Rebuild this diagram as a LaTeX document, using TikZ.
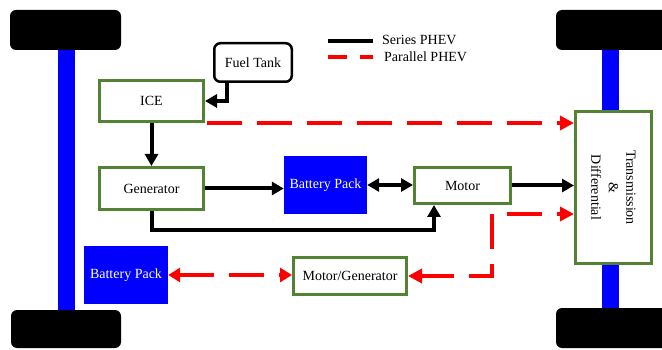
\documentclass[tikz,border=0pt]{standalone}
\usepackage{fontspec}
\setmainfont{Liberation Serif}
\usetikzlibrary{arrows.meta,calc}
\definecolor{boxgreen}{HTML}{548235}
\definecolor{pureblue}{HTML}{0000FF}
\definecolor{purered}{HTML}{FF0000}
\tikzset{
  gbox/.style={draw=boxgreen,line width=3pt,fill=white,inner sep=0pt,font=\fontsize{14}{17}\selectfont},
  bbox/.style={fill=pureblue,text=white,inner sep=0pt,font=\fontsize{14}{17}\selectfont},
  wheel/.style={fill=black,rounded corners=6pt},
  axle/.style={fill=pureblue},
  sline/.style={line width=4pt,black},
  sarrow/.style={sline,-{Triangle[length=12pt,width=13pt]}},
  sdarrow/.style={sline,{Triangle[length=12pt,width=13pt]}-{Triangle[length=12pt,width=13pt]}},
  pline/.style={line width=4.5pt,purered,dash pattern=on 35pt off 15pt},
  parrow/.style={pline,-{Triangle[length=14pt,width=14pt]}},
  pdarrow/.style={pline,{Triangle[length=12pt,width=14pt]}-{Triangle[length=12pt,width=14pt]}},
  legtext/.style={anchor=west,inner sep=0pt,font=\fontsize{14}{17}\selectfont}
}
\begin{document}
\begin{tikzpicture}[x=1pt,y=-1pt]
\clip (0,0) rectangle (662,350);
\fill[white] (0,0) rectangle (662,350);
% axles
\fill[axle] (58,45) rectangle (75,315);
\fill[axle] (602,45) rectangle (619,112);
\fill[axle] (602,262) rectangle (619,312);
% wheels
\fill[wheel] (10,10) rectangle (121,50);
\fill[wheel] (11,310) rectangle (121,348);
\fill[wheel] (556,10) rectangle (675,50);
\fill[wheel] (556,308) rectangle (675,348);
% nodes
\node[draw=black,line width=2.5pt,rounded corners=6pt,fill=white,inner sep=0pt,
      minimum width=77.5pt,minimum height=38.5pt,font=\fontsize{14}{17}\selectfont] (fuel) at (253,62.5) {Fuel Tank};
\node[gbox,minimum width=104pt,minimum height=41pt] (ice) at (151.5,101) {ICE};
\node[gbox,minimum width=104pt,minimum height=42pt] (gen) at (151.5,188.5) {Generator};
\node[bbox,minimum width=83pt,minimum height=58pt] (bat) at (325.5,185) {Battery Pack};
\node[gbox,minimum width=96pt,minimum height=36pt] (motor) at (462.5,185.5) {Motor};
\node[gbox,minimum width=76pt,minimum height=152pt] (trans) at (613.5,187.5) {};
\node[rotate=-90,align=center,inner sep=0pt,font=\fontsize{14}{17.5}\selectfont] (transtext) at (trans.center) {Transmission\\\&\\Differential};
\node[gbox,minimum width=113pt,minimum height=37pt] (mg) at (350,276) {Motor/Generator};
\node[bbox,minimum width=84pt,minimum height=58pt] (batl) at (126,275) {Battery Pack};
% legend
\coordinate (l1a) at (328,41);
\coordinate (l1b) at (373,41);
\coordinate (l2a) at (328,57);
\coordinate (l2b) at (373,57);
\draw[sline] (l1a) -- (l1b);
\draw[line width=4.5pt,purered,dash pattern=on 19pt off 13pt] (l2a) -- (l2b);
\node[legtext] (leg1) at (382,40) {Series PHEV};
\node[legtext] (leg2) at (384,57) {Parallel PHEV};
% series connectors
\draw[sarrow] ($(fuel.south west)+(14,0)$) |- (ice.east);
\draw[sarrow] (ice.south) -- (gen.north);
\draw[sarrow] (gen.east) -- (gen.east -| bat.west);
\draw[sdarrow] (bat.east) -- (bat.east -| motor.west);
\draw[sarrow] (motor.east) -- (motor.east -| trans.west);
\draw[sarrow] (gen.south) -- ($(gen.south)+(0,19)$) -| ($(motor.south west)+(21,0)$);
% parallel connectors
\coordinate (rt) at ($(ice.south east)+(1.5,0)$);
\draw[parrow] (rt) -- (rt -| trans.west);
\coordinate (rs) at (492,214);
\draw[parrow,dash phase=35pt] (rs) -- (rs -| trans.west);
\draw[parrow] (rs) |- (mg.east);
\draw[pdarrow] (batl.east) -- (batl.east -| mg.west);
\end{tikzpicture}
\end{document}
